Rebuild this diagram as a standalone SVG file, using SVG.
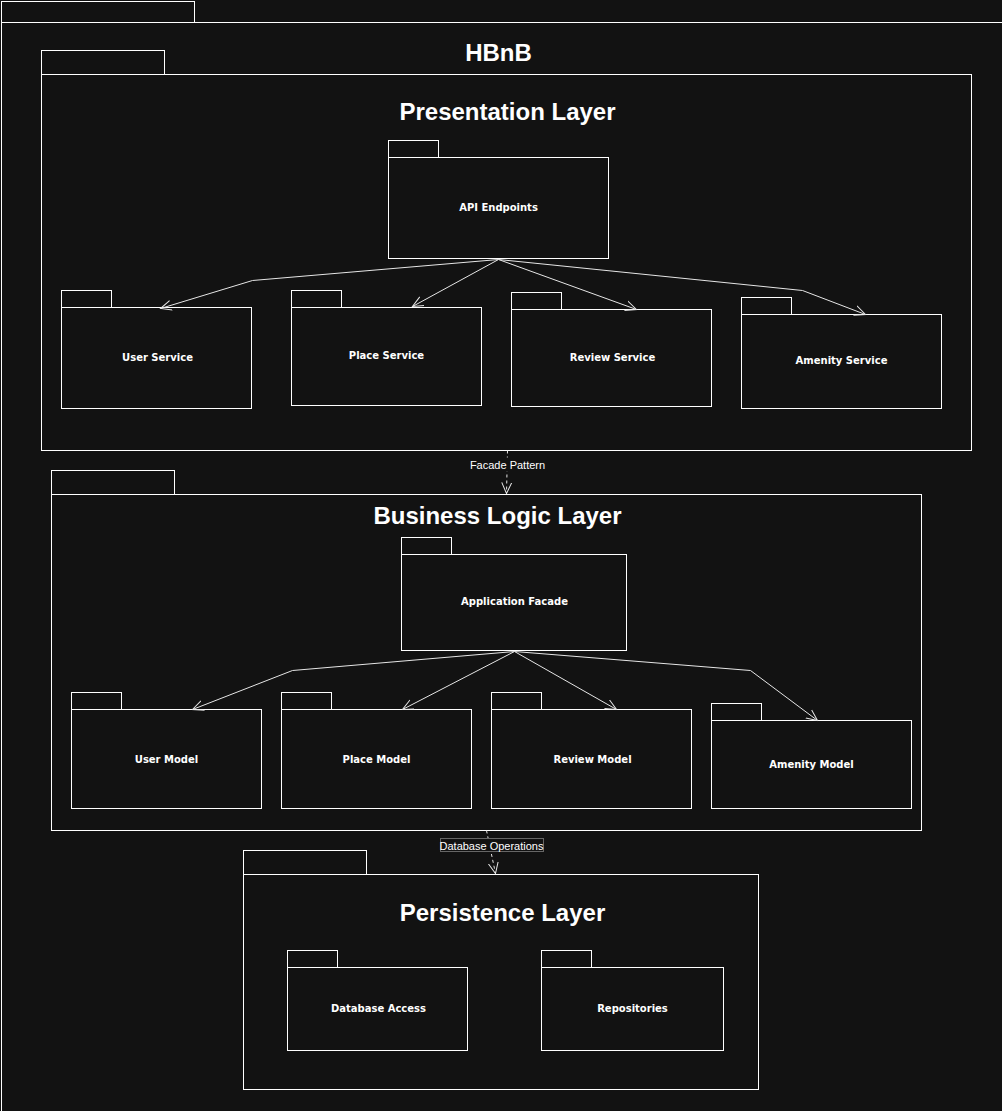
<svg xmlns="http://www.w3.org/2000/svg" width="1002" height="1111" viewBox="0 0 1002 1111">
<style>
.bg{fill:#121212}
.f{fill:#121212;stroke:#ffffff;stroke-width:1}
.t{font-family:"Liberation Sans",Arial,sans-serif;font-weight:bold;font-size:24px;fill:#ffffff;text-anchor:middle}
.n{font-family:"DejaVu Sans",Verdana,sans-serif;font-weight:bold;font-size:10px;fill:#ffffff;text-anchor:middle}
.e{font-family:"Liberation Sans",Arial,sans-serif;font-size:11px;fill:#ffffff;text-anchor:middle}
.c{fill:none;stroke:#e6e6e6;stroke-width:1}
.d{fill:none;stroke:#e6e6e6;stroke-width:1;stroke-dasharray:3,3}
</style>
<defs>
<marker id="open" viewBox="0 0 12 12" markerWidth="12" markerHeight="12" refX="11" refY="6" orient="auto" markerUnits="userSpaceOnUse">
<path d="M0,1 L11,6 L0,11" fill="none" stroke="#e6e6e6" stroke-width="1"/>
</marker>
</defs>
<rect class="bg" x="0" y="0" width="1002" height="1111"/>
<g transform="translate(0.5,0.5)">
<g id="hbnb">
<rect class="f" x="1" y="1" width="193" height="21"/>
<rect class="f" x="1" y="22" width="1010" height="1100"/>
<text class="t" x="498" y="60">HBnB</text>
</g>

<g id="presentation-layer">
<rect class="f" x="41" y="50" width="123" height="24"/>
<rect class="f" x="41" y="74" width="930" height="376"/>
<text class="t" x="507" y="119">Presentation Layer</text>
</g>

<g id="api-endpoints">
<rect class="f" x="388" y="140" width="50" height="17"/>
<rect class="f" x="388" y="157" width="220" height="101"/>
<text class="n" x="498" y="210">API Endpoints</text>
</g>

<g id="user-service">
<rect class="f" x="61" y="290" width="50" height="17"/>
<rect class="f" x="61" y="307" width="190" height="101"/>
<text class="n" x="157" y="360">User Service</text>
</g>

<g id="place-service">
<rect class="f" x="291" y="290" width="50" height="17"/>
<rect class="f" x="291" y="307" width="190" height="98"/>
<text class="n" x="386" y="358">Place Service</text>
</g>

<g id="review-service">
<rect class="f" x="511" y="292" width="50" height="17"/>
<rect class="f" x="511" y="309" width="200" height="97"/>
<text class="n" x="612" y="360">Review Service</text>
</g>

<g id="amenity-service">
<rect class="f" x="741" y="297" width="50" height="17"/>
<rect class="f" x="741" y="314" width="200" height="94"/>
<text class="n" x="841" y="363">Amenity Service</text>
</g>

<g id="business-logic-layer">
<rect class="f" x="51" y="470" width="123" height="24"/>
<rect class="f" x="51" y="494" width="870" height="336"/>
<text class="t" x="497" y="523">Business Logic Layer</text>
</g>

<g id="application-facade">
<rect class="f" x="401" y="537" width="50" height="17"/>
<rect class="f" x="401" y="554" width="225" height="96"/>
<text class="n" x="514" y="604">Application Facade</text>
</g>

<g id="user-model">
<rect class="f" x="71" y="692" width="50" height="17"/>
<rect class="f" x="71" y="709" width="190" height="99"/>
<text class="n" x="166" y="762">User Model</text>
</g>

<g id="place-model">
<rect class="f" x="281" y="692" width="50" height="17"/>
<rect class="f" x="281" y="709" width="190" height="99"/>
<text class="n" x="376" y="762">Place Model</text>
</g>

<g id="review-model">
<rect class="f" x="491" y="692" width="50" height="17"/>
<rect class="f" x="491" y="709" width="200" height="99"/>
<text class="n" x="592" y="762">Review Model</text>
</g>

<g id="amenity-model">
<rect class="f" x="711" y="703" width="50" height="17"/>
<rect class="f" x="711" y="720" width="200" height="88"/>
<text class="n" x="811" y="767">Amenity Model</text>
</g>

<g id="persistence-layer">
<rect class="f" x="243" y="850" width="123" height="24"/>
<rect class="f" x="243" y="874" width="515" height="215"/>
<text class="t" x="502" y="920">Persistence Layer</text>
</g>

<g id="database-access">
<rect class="f" x="287" y="950" width="50" height="17"/>
<rect class="f" x="287" y="967" width="180" height="83"/>
<text class="n" x="378" y="1011">Database Access</text>
</g>

<g id="repositories">
<rect class="f" x="541" y="950" width="50" height="17"/>
<rect class="f" x="541" y="967" width="182" height="83"/>
<text class="n" x="632" y="1011">Repositories</text>
</g>

<g id="connectors">
<polyline class="c" points="498,259 252,280 160,308" marker-end="url(#open)"/>
<polyline class="c" points="498,259 412,306" marker-end="url(#open)"/>
<polyline class="c" points="498,259 636,309" marker-end="url(#open)"/>
<polyline class="c" points="498,259 802,290 865,314" marker-end="url(#open)"/>

<polyline class="c" points="514,651 292,670 192,709" marker-end="url(#open)"/>
<polyline class="c" points="514,651 402,709" marker-end="url(#open)"/>
<polyline class="c" points="514,651 616,709" marker-end="url(#open)"/>
<polyline class="c" points="514,651 750,670 817,720" marker-end="url(#open)"/>

<line class="d" x1="507" y1="450" x2="506" y2="493" marker-end="url(#open)"/>
<rect x="467" y="457" width="80" height="14" fill="#121212"/>
<text class="e" x="507" y="468">Facade Pattern</text>

<line class="d" x1="486" y1="830" x2="495" y2="873" marker-end="url(#open)"/>
<rect x="440" y="838" width="103" height="13" fill="#121212" stroke="#666666" stroke-width="1"/>
<text class="e" x="491" y="849">Database Operations</text>
</g>
</g>
</svg>
